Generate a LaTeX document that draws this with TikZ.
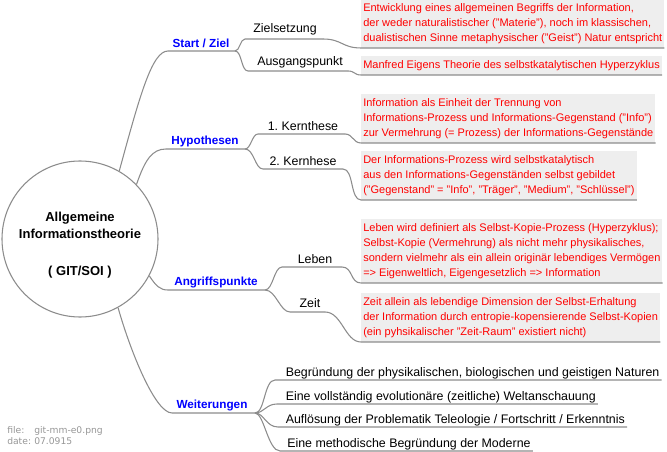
\documentclass[tikz,border=0pt]{standalone}
\usepackage{fontspec}
\setmainfont{Liberation Sans}
\newfontfamily\footfont{DejaVu Sans}
\definecolor{linegray}{RGB}{140,140,140}
\definecolor{boxgray}{RGB}{238,238,238}
\definecolor{redtxt}{RGB}{255,0,0}
\definecolor{bluetxt}{RGB}{0,0,255}
\definecolor{footgray}{RGB}{150,150,150}
\frenchspacing
\begin{document}
\begin{tikzpicture}[x=0.75pt,y=-0.75pt,
  conn/.style={draw=linegray,line width=0.8pt},
  hub/.style={circle,draw=linegray,line width=0.8pt,minimum size=117pt,inner sep=0pt},
  hubtext/.style={font=\fontsize{9.75}{12.75}\selectfont\bfseries,align=center,inner sep=0pt},
  mainlbl/.style={font=\fontsize{8.8}{11}\selectfont\bfseries,text=bluetxt,inner sep=0pt},
  sublbl/.style={font=\fontsize{9.3}{11}\selectfont,inner sep=0pt},
  note/.style={fill=boxgray,text=redtxt,font=\fontsize{8.25}{11.25}\selectfont,align=left,inner xsep=1.5pt,inner ysep=3pt,anchor=south west},
  item/.style={font=\fontsize{9.3}{11}\selectfont,inner xsep=1.5pt,inner ysep=0pt,anchor=base west},
  foot/.style={font=\footfont\fontsize{6.9}{8.25}\selectfont,text=footgray,inner sep=0pt,anchor=base west}
]
\useasboundingbox (0,0) rectangle (667,452);

% hub
\node[hub] (c) at (80,239) {};
\node[hubtext] (ct) at (80,245) {Allgemeine\\Informationstheorie\\[15pt]( GIT/SOI )};

% Start / Ziel
\node[mainlbl] (m1) at (201,43) {Start / Ziel};
\coordinate (m1a) at (168,51); \coordinate (m1b) at (235,51);
\draw[conn] (c.60) .. controls (140,95) and (152,51) .. (m1a) -- (m1b);

\node[sublbl] (s1) at (285,29) {Zielsetzung};
\coordinate (s1a) at (245,39); \coordinate (s1b) at (323,39);
\draw[conn] (m1b) .. controls (240,51) and (240,39) .. (s1a) -- (s1b);
\node[note] (n1) at (361,48) {Entwicklung eines allgemeinen Begriffs der Information,\\der weder naturalistischer ("Materie"), noch im klassischen,\\dualistischen Sinne metaphysischer ("Geist") Natur entspricht};
\draw[conn] (s1b) .. controls (342,39) and (342,48) .. (n1.south west) -- (n1.south east);

\node[sublbl] (s2) at (300,62) {Ausgangspunkt};
\coordinate (s2a) at (248,71); \coordinate (s2b) at (348,71);
\draw[conn] (m1b) .. controls (242,51) and (241,71) .. (s2a) -- (s2b);
\node[note] (n2) at (361,75) {Manfred Eigens Theorie des selbstkatalytischen Hyperzyklus};
\draw[conn] (s2b) .. controls (355,71) and (354,75) .. (n2.south west) -- (n2.south east);

% Hypothesen
\node[mainlbl] (m2) at (205,141) {Hypothesen};
\coordinate (m2a) at (166,149); \coordinate (m2b) at (245,149);
\draw[conn] (c.44) .. controls (145,160) and (152,149) .. (m2a) -- (m2b);

\node[sublbl] (s3) at (303,126) {1. Kernthese};
\coordinate (s3a) at (258,134); \coordinate (s3b) at (345,134);
\draw[conn] (m2b) .. controls (251,149) and (252,134) .. (s3a) -- (s3b);
\node[note] (n3) at (361,143) {Information als Einheit der Trennung von\\Informations-Prozess und Informations-Gegenstand ("Info")\\zur Vermehrung (= Prozess) der Informations-Gegenstände};
\draw[conn] (s3b) .. controls (353,134) and (353,143) .. (n3.south west) -- (n3.south east);

\node[sublbl] (s4) at (303,161) {2. Kernhese};
\coordinate (s4a) at (263,169); \coordinate (s4b) at (343,169);
\draw[conn] (m2b) .. controls (254,149) and (255,169) .. (s4a) -- (s4b);
\node[note] (n4) at (361,200) {Der Informations-Prozess wird selbstkatalytisch\\aus den Informations-Gegenständen selbst gebildet\\("Gegenstand" = "Info", "Träger", "Medium", "Schlüssel")};
\draw[conn] (s4b) .. controls (354,169) and (350,200) .. (n4.south west) -- (n4.south east);

% Angriffspunkte
\node[mainlbl] (m3) at (216,282) {Angriffspunkte};
\coordinate (m3a) at (168,290); \coordinate (m3b) at (265,290);
\draw[conn] (c.-28) .. controls (156,286) and (160,290) .. (m3a) -- (m3b);

\node[sublbl] (s5) at (315,259) {Leben};
\coordinate (s5a) at (282,267); \coordinate (s5b) at (342,267);
\draw[conn] (m3b) .. controls (273,290) and (274,267) .. (s5a) -- (s5b);
\node[note] (n5) at (361,283) {Leben wird definiert als Selbst-Kopie-Prozess (Hyperzyklus);\\Selbst-Kopie (Vermehrung) als nicht mehr physikalisches,\\sondern vielmehr als ein allein originär lebendiges Vermögen\\=> Eigenweltlich, Eigengesetzlich => Information};
\draw[conn] (s5b) .. controls (353,267) and (350,283) .. (n5.south west) -- (n5.south east);

\node[sublbl] (s6) at (310,303) {Zeit};
\coordinate (s6a) at (290,312); \coordinate (s6b) at (325,312);
\draw[conn] (m3b) .. controls (276,290) and (280,312) .. (s6a) -- (s6b);
\node[note] (n6) at (361,342) {Zeit allein als lebendige Dimension der Selbst-Erhaltung\\der Information durch entropie-kopensierende Selbst-Kopien\\(ein pyhsikalischer "Zeit-Raum" existiert nicht)};
\draw[conn] (s6b) .. controls (342,312) and (345,342) .. (n6.south west) -- (n6.south east);

% Weiterungen
\node[mainlbl] (m4) at (212,405) {Weiterungen};
\coordinate (m4a) at (172,413); \coordinate (m4b) at (255,413);
\draw[conn] (c.-61) .. controls (130,350) and (155,413) .. (m4a) -- (m4b);

\coordinate (w1a) at (275,380);
\node[item] (w1) at (283.5,376.5) {Begründung der physikalischen, biologischen und geistigen Naturen};
\draw[conn] (m4b) .. controls (265,413) and (264,380) .. (w1a) -- (w1.east |- w1a);
\coordinate (w2a) at (277,404);
\node[item] (w2) at (283.5,400.5) {Eine vollständig evolutionäre (zeitliche) Weltanschauung};
\draw[conn] (m4b) .. controls (264,413) and (266,404) .. (w2a) -- (w2.east |- w2a);
\coordinate (w3a) at (278,427);
\node[item] (w3) at (283.5,423.5) {Auflösung der Problematik Teleologie / Fortschritt / Erkenntnis};
\draw[conn] (m4b) .. controls (264,413) and (266,427) .. (w3a) -- (w3.east |- w3a);
\coordinate (w4a) at (280,451);
\node[item] (w4) at (285,447.5) {Eine methodische Begründung der Moderne};
\draw[conn] (m4b) .. controls (264,413) and (268,451) .. (w4a) -- (w4.east |- w4a);

% footer
\node[foot] (f1) at (7,433.5) {\makebox[20.25pt][l]{file:}git-mm-e0.png};
\node[foot] (f2) at (7,444.5) {\makebox[20.25pt][l]{date:}07.0915};
\end{tikzpicture}
\end{document}
